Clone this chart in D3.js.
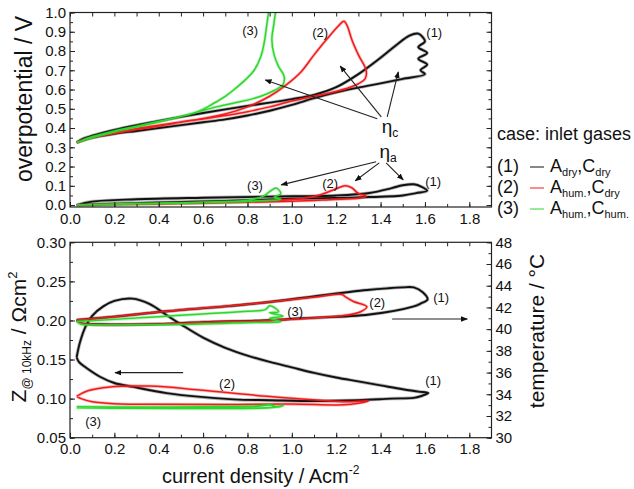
<!DOCTYPE html>
<html>
<head>
<meta charset="utf-8">
<script src="https://cdn.jsdelivr.net/npm/d3@7.9.0/dist/d3.min.js"></script>
<style>
body { margin: 0; background: #fff; }
svg { font-family: "Liberation Sans", Arial, sans-serif; }
</style>
</head>
<body>
<svg id="chart" width="634" height="489"></svg>
<script>
// ---- data: [current density, value] ----
// cathode overpotential loops (V)
const etaC_dry = [[0.03,0.325],[0.06,0.345],[0.1,0.36],[0.2,0.39],[0.3,0.415],[0.4,0.437],[0.5,0.458],[0.6,0.478],[0.7,0.497],[0.8,0.515],[0.9,0.532],[1.0,0.55],[1.1,0.572],[1.2,0.612],[1.3,0.68],[1.4,0.765],[1.47,0.83],[1.53,0.88],[1.57,0.89],[1.6,0.85],[1.57,0.82],[1.61,0.79],[1.57,0.76],[1.61,0.73],[1.58,0.7],[1.6,0.68],[1.5,0.655],[1.4,0.632],[1.3,0.61],[1.2,0.585],[1.1,0.555],[1.0,0.52],[0.9,0.49],[0.8,0.465],[0.7,0.445],[0.6,0.43],[0.5,0.415],[0.4,0.4],[0.3,0.385],[0.2,0.37],[0.1,0.35],[0.03,0.325]];
const etaC_humA = [[0.03,0.325],[0.1,0.352],[0.2,0.378],[0.3,0.398],[0.4,0.415],[0.5,0.432],[0.6,0.45],[0.7,0.473],[0.8,0.51],[0.9,0.565],[0.97,0.62],[1.04,0.69],[1.1,0.78],[1.16,0.865],[1.21,0.93],[1.235,0.955],[1.25,0.93],[1.27,0.86],[1.3,0.78],[1.335,0.7],[1.33,0.655],[1.3,0.63],[1.25,0.607],[1.18,0.585],[1.1,0.565],[1.0,0.54],[0.9,0.51],[0.8,0.485],[0.7,0.465],[0.6,0.447],[0.5,0.43],[0.4,0.41],[0.3,0.392],[0.2,0.372],[0.1,0.35],[0.03,0.325]];
const etaC_humAC = [[0.03,0.325],[0.1,0.355],[0.2,0.385],[0.3,0.41],[0.4,0.435],[0.5,0.46],[0.586,0.49],[0.65,0.53],[0.7,0.565],[0.74,0.6],[0.79,0.65],[0.83,0.7],[0.86,0.77],[0.875,0.84],[0.885,0.92],[0.895,1.0],[0.9,1.04],[0.925,1.04],[0.92,0.95],[0.91,0.86],[0.92,0.78],[0.94,0.72],[0.965,0.67],[0.96,0.625],[0.92,0.595],[0.86,0.565],[0.8,0.545],[0.74,0.53],[0.66,0.51],[0.586,0.487],[0.5,0.46],[0.4,0.432],[0.3,0.405],[0.2,0.38],[0.1,0.35],[0.03,0.325]];
// anode overpotential loops (V)
const etaA_dry = [[0.03,0.0],[0.1,0.018],[0.3,0.03],[0.6,0.038],[0.9,0.044],[1.2,0.05],[1.35,0.063],[1.45,0.088],[1.5,0.103],[1.55,0.108],[1.585,0.095],[1.61,0.075],[1.56,0.062],[1.5,0.05],[1.3,0.04],[1.0,0.033],[0.7,0.022],[0.4,0.013],[0.2,0.007],[0.03,0.0]];
const etaA_humA = [[0.03,0.0],[0.3,0.006],[0.6,0.013],[0.9,0.022],[1.05,0.035],[1.13,0.054],[1.2,0.085],[1.24,0.1],[1.27,0.09],[1.3,0.06],[1.335,0.046],[1.3,0.035],[1.17,0.028],[1.0,0.02],[0.7,0.012],[0.4,0.006],[0.03,0.0]];
const etaA_humAC = [[0.03,0.0],[0.3,0.008],[0.6,0.015],[0.8,0.025],[0.87,0.045],[0.9,0.07],[0.93,0.088],[0.95,0.06],[0.92,0.04],[0.95,0.03],[0.85,0.022],[0.6,0.012],[0.3,0.005],[0.03,0.0]];
// high-frequency impedance loops (Ohm cm2, left axis)
const Z_dry = [[0.03,0.153],[0.045,0.172],[0.07,0.192],[0.1,0.206],[0.15,0.218],[0.2,0.225],[0.28,0.228],[0.36,0.221],[0.44,0.206],[0.5,0.195],[0.6,0.178],[0.7,0.165],[0.8,0.155],[0.9,0.147],[1.0,0.14],[1.1,0.133],[1.2,0.127],[1.3,0.122],[1.4,0.117],[1.5,0.112],[1.57,0.109],[1.615,0.107],[1.58,0.103],[1.55,0.101],[1.45,0.1],[1.3,0.098],[1.1,0.097],[0.9,0.098],[0.737,0.099],[0.436,0.107],[0.286,0.115],[0.2,0.12],[0.135,0.128],[0.07,0.14],[0.04,0.147],[0.03,0.153]];
const Z_humA = [[0.03,0.103],[0.08,0.11],[0.18,0.115],[0.36,0.116],[0.586,0.111],[0.887,0.103],[1.128,0.098],[1.25,0.096],[1.345,0.097],[1.3,0.094],[1.233,0.092],[1.0,0.093],[0.7,0.0925],[0.436,0.0927],[0.2,0.0935],[0.1,0.096],[0.05,0.1],[0.03,0.103]];
const Z_humAC = [[0.03,0.0895],[0.3,0.089],[0.6,0.0895],[0.85,0.0905],[0.9,0.092],[0.93,0.0895],[0.96,0.091],[0.9,0.0885],[0.6,0.0875],[0.3,0.0878],[0.03,0.0885]];
// cell temperature loops (degC, right axis)
const T_dry = [[0.03,40.84],[0.2,41.15],[0.436,41.65],[0.7,42.1],[0.9,42.5],[1.13,43.1],[1.34,43.6],[1.43,43.76],[1.5,43.85],[1.55,43.85],[1.59,43.4],[1.612,42.75],[1.58,42.35],[1.55,42.1],[1.35,41.35],[1.05,41.0],[0.9,40.82],[0.6,40.65],[0.4,40.47],[0.135,40.45],[0.05,40.55],[0.03,40.84]];
const T_humA = [[0.03,40.84],[0.2,41.15],[0.436,41.65],[0.7,42.1],[0.9,42.5],[1.1,42.95],[1.225,43.2],[1.24,43.0],[1.278,42.55],[1.338,42.07],[1.31,41.6],[1.25,41.3],[1.05,40.97],[0.9,40.8],[0.6,40.62],[0.4,40.46],[0.1,40.42],[0.05,40.55],[0.03,40.84]];
const T_humAC = [[0.03,40.7],[0.2,40.9],[0.4,41.15],[0.6,41.4],[0.8,41.65],[0.88,41.8],[0.9,42.15],[0.92,42.0],[0.94,41.6],[0.9,41.5],[0.96,41.2],[0.9,41.0],[0.95,40.7],[0.8,40.6],[0.556,40.45],[0.3,40.4],[0.105,40.38],[0.05,40.45],[0.03,40.7]];

const xTicks = [0.0,0.2,0.4,0.6,0.8,1.0,1.2,1.4,1.6,1.8];
const etaTicks = [0.0,0.1,0.2,0.3,0.4,0.5,0.6,0.7,0.8,0.9,1.0];
const zTicks = [0.05,0.10,0.15,0.20,0.25,0.30];
const tTicks = [30,32,34,36,38,40,42,44,46,48];

const cases = [
  { id: "(1)", color: "#111", a: "dry", c: "dry" },
  { id: "(2)", color: "#f21b1b", a: "hum.", c: "dry" },
  { id: "(3)", color: "#2fd62f", a: "hum.", c: "hum." }
];

const svg = d3.select("#chart");

const x = d3.scaleLinear().domain([0, 1.9]).range([70, 491.5]);
const yEta = d3.scaleLinear().domain([-0.01, 1.0]).range([207, 12.5]);
const yZ = d3.scaleLinear().domain([0.05, 0.30]).range([437.7, 242.3]);
const yT = d3.scaleLinear().domain([30, 48]).range([437.7, 242.3]);

const defs = svg.append("defs");
defs.append("marker")
    .attr("id", "head")
    .attr("viewBox", "0 0 10 10")
    .attr("refX", 9).attr("refY", 5)
    .attr("markerWidth", 7).attr("markerHeight", 7)
    .attr("markerUnits", "userSpaceOnUse")
    .attr("orient", "auto")
  .append("path").attr("d", "M0,1 L10,5 L0,9 z").attr("fill", "#111");

function clip(id, y0, y1) {
    defs.append("clipPath").attr("id", id)
      .append("rect").attr("x", 70).attr("y", y0).attr("width", 421.5).attr("height", y1 - y0);
}
clip("clipTop", 12.5, 207);
clip("clipBot", 242.3, 437.7);

function frameAxes(yScale, yMajor, yMinor, yFmt, y0, y1, rightScale) {
    const g = svg.append("g");
    const minorX = d3.range(0, 19).map(i => i / 10);
    // bottom
    g.append("g").attr("transform", `translate(0,${y1})`)
        .call(d3.axisBottom(x).tickValues(minorX).tickSize(-3).tickFormat(""));
    g.append("g").attr("transform", `translate(0,${y1})`)
        .call(d3.axisBottom(x).tickValues(xTicks).tickSize(-5).tickPadding(6).tickFormat(d3.format(".1f")));
    // top
    g.append("g").attr("transform", `translate(0,${y0})`)
        .call(d3.axisTop(x).tickValues(minorX).tickSize(-4).tickFormat(""));
    // left
    g.append("g").attr("transform", "translate(70,0)")
        .call(d3.axisLeft(yScale).tickValues(yMinor).tickSize(-3).tickFormat(""));
    g.append("g").attr("transform", "translate(70,0)")
        .call(d3.axisLeft(yScale).tickValues(yMajor).tickSize(-5).tickPadding(4).tickFormat(yFmt));
    // right
    if (rightScale) {
        g.append("g").attr("transform", "translate(491.5,0)")
            .call(d3.axisRight(rightScale).tickValues(d3.range(30, 49, 1)).tickSize(-3).tickFormat(""));
        g.append("g").attr("transform", "translate(491.5,0)")
            .call(d3.axisRight(rightScale).tickValues(tTicks).tickSize(-5).tickPadding(4).tickFormat(d3.format("d")));
    } else {
        g.append("g").attr("transform", "translate(491.5,0)")
            .call(d3.axisRight(yScale).tickValues(yMinor).tickSize(-3).tickFormat(""));
        g.append("g").attr("transform", "translate(491.5,0)")
            .call(d3.axisRight(yScale).tickValues(yMajor).tickSize(-5).tickFormat(""));
    }
    g.selectAll(".domain").remove();
    g.selectAll("line").attr("stroke", "#222");
    g.selectAll("text").attr("font-size", 15).attr("fill", "#111").attr("font-family", "Liberation Sans, Arial, sans-serif");
    g.append("rect").attr("x", 70).attr("y", y0).attr("width", 421.5).attr("height", y1 - y0)
        .attr("fill", "none").attr("stroke", "#222").attr("stroke-width", 1.2);
}

// each loop is a bundle of repeated cycles: a soft wide stroke under a sharp one
function drawLoops(clipId, yScale, list) {
    const line = d3.line().x(d => x(d[0])).y(d => yScale(d[1]))
        .curve(d3.curveCatmullRom.alpha(0.5));
    const g = svg.append("g").attr("clip-path", `url(#${clipId})`);
    list.forEach(([data, color, w]) => {
        g.append("path").datum(data)
            .attr("fill", "none").attr("stroke", color)
            .attr("stroke-width", w + 1.6).attr("stroke-opacity", 0.3)
            .attr("stroke-linejoin", "round").attr("d", line);
        g.append("path").datum(data)
            .attr("fill", "none").attr("stroke", color)
            .attr("stroke-width", w)
            .attr("stroke-linejoin", "round").attr("d", line);
    });
}

// ---- top panel: overpotentials ----
drawLoops("clipTop", yEta, [
    [etaC_dry, cases[0].color, 1.9], [etaA_dry, cases[0].color, 1.9],
    [etaC_humA, cases[1].color, 1.5], [etaA_humA, cases[1].color, 1.5],
    [etaC_humAC, cases[2].color, 1.5], [etaA_humAC, cases[2].color, 1.5]
]);
frameAxes(yEta, etaTicks, d3.range(0, 21).map(i => i * 0.05), d3.format(".1f"), 12.5, 207, null);

// ---- bottom panel: impedance + temperature ----
drawLoops("clipBot", yZ, [
    [Z_dry, cases[0].color, 1.9], [Z_humA, cases[1].color, 1.5], [Z_humAC, cases[2].color, 1.9]
]);
drawLoops("clipBot", yT, [
    [T_dry, cases[0].color, 1.9], [T_humA, cases[1].color, 1.5], [T_humAC, cases[2].color, 1.5]
]);
frameAxes(yZ, zTicks, d3.range(0, 11).map(i => 0.05 + i * 0.025), d3.format(".2f"), 242.3, 437.7, yT);

// ---- annotations ----
function label(t, px, py, size) {
    svg.append("text").attr("x", px).attr("y", py)
        .attr("text-anchor", "middle").attr("dy", "0.35em")
        .attr("font-size", size || 13).attr("fill", "#111").text(t);
}
function arrow(x1, y1, x2, y2) {
    svg.append("line").attr("x1", x1).attr("y1", y1).attr("x2", x2).attr("y2", y2)
        .attr("stroke", "#222").attr("stroke-width", 1.1).attr("marker-end", "url(#head)");
}
// top panel labels
label("(3)", x(0.812), yEta(0.909));
label("(2)", x(1.128), yEta(0.899));
label("(1)", x(1.642), yEta(0.899));
label("(3)", x(0.834), yEta(0.10));
label("(2)", x(1.173), yEta(0.11));
label("(1)", x(1.637), yEta(0.121));
function eta(sub, px, py) {
    const t = svg.append("text").attr("x", px).attr("y", py).attr("font-size", 19).attr("fill", "#111");
    t.append("tspan").text("η");
    t.append("tspan").attr("font-size", 12).attr("dy", 4).text(sub);
}
eta("c", x(1.405), yEta(0.375));
eta("a", x(1.395), yEta(0.245));
arrow(x(1.385), yEta(0.448), x(0.88), yEta(0.65));
arrow(x(1.403), yEta(0.458), x(1.218), yEta(0.722));
arrow(x(1.43), yEta(0.458), x(1.48), yEta(0.692));
arrow(x(1.38), yEta(0.225), x(0.952), yEta(0.105));
arrow(x(1.394), yEta(0.219), x(1.286), yEta(0.126));
arrow(x(1.425), yEta(0.219), x(1.502), yEta(0.131));
// bottom panel labels
label("(3)", x(1.015), yZ(0.212));
label("(2)", x(1.385), yZ(0.2236));
label("(1)", x(1.673), yZ(0.23));
label("(1)", x(1.637), yZ(0.1238));
label("(2)", x(0.708), yZ(0.12));
label("(3)", x(0.104), yZ(0.0714));
arrow(x(0.51), yZ(0.1332), x(0.203), yZ(0.1332));
arrow(x(1.452), yZ(0.2019), x(1.791), yZ(0.2019));

// ---- axis titles ----
svg.append("text").attr("transform", "translate(32,99) rotate(-90)")
    .attr("text-anchor", "middle").attr("font-size", 23).attr("fill", "#111")
    .text("overpotential / V");
const zt = svg.append("text").attr("transform", "translate(26,337) rotate(-90)")
    .attr("text-anchor", "middle").attr("font-size", 21).attr("fill", "#111");
zt.append("tspan").text("Z");
zt.append("tspan").attr("font-size", 12).attr("dy", 5).text("@ 10kHz");
zt.append("tspan").attr("dy", -5).text(" / Ωcm");
zt.append("tspan").attr("font-size", 13).attr("dy", -9).text("2");
svg.append("text").attr("transform", "translate(544,331) rotate(-90)")
    .attr("text-anchor", "middle").attr("font-size", 21).attr("fill", "#111")
    .text("temperature / °C");
const xt = svg.append("text").attr("x", 162).attr("y", 483)
    .attr("font-size", 20).attr("fill", "#111");
xt.append("tspan").text("current density / Acm");
xt.append("tspan").attr("font-size", 12).attr("dy", -9).text("-2");

// ---- legend ----
svg.append("text").attr("x", 497).attr("y", 140).attr("font-size", 18).attr("fill", "#111")
    .text("case: inlet gases");
cases.forEach((c, i) => {
    const by = 172 + i * 21;
    svg.append("text").attr("x", 497).attr("y", by).attr("font-size", 18).attr("fill", "#111").text(c.id);
    svg.append("line").attr("x1", 530).attr("x2", 544).attr("y1", by - 5).attr("y2", by - 5)
        .attr("stroke", c.color).attr("stroke-width", 1);
    const t = svg.append("text").attr("x", 550).attr("y", by).attr("font-size", 18).attr("fill", "#111");
    t.append("tspan").text("A");
    t.append("tspan").attr("font-size", 11).attr("dy", 4).text(c.a);
    t.append("tspan").attr("dy", -4).text(",C");
    t.append("tspan").attr("font-size", 11).attr("dy", 4).text(c.c);
});
</script>
</body>
</html>
